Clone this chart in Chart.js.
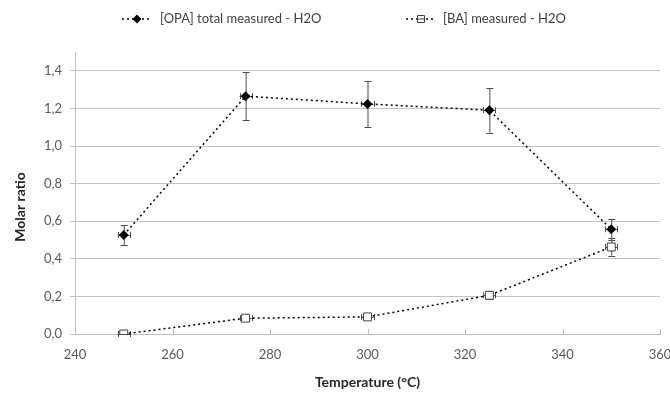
<!DOCTYPE html>
<html>
<head>
<meta charset="utf-8">
<script src="https://cdn.jsdelivr.net/npm/chart.js@4.4.0/dist/chart.umd.min.js"></script>
<style>
  html, body { margin: 0; padding: 0; background: #fff; }
  #chart { display: block; }
</style>
</head>
<body>
<canvas id="chart" width="670" height="395"></canvas>
<script>
// values
const temperatures = [250, 275, 300, 325, 350];
const tempErr = [1.25, 1.25, 1.25, 1.25, 1.25];
const opaTotal = [0.527, 1.265, 1.224, 1.19, 0.557];
const opaErr = [0.053, 0.127, 0.122, 0.119, 0.056];
const baMeasured = [0.0, 0.084, 0.091, 0.206, 0.463];
const baErr = [0.0, 0.008, 0.009, 0.021, 0.046];
const xTicks = [240, 260, 280, 300, 320, 340, 360];
const yTicks = [0, 0.2, 0.4, 0.6, 0.8, 1.0, 1.2, 1.4];
const yTitle = 'Molar ratio';

const FONT = 'Lato, "Open Sans", sans-serif';

function toPoints(xs, ys, yErr) {
  return xs.map((x, i) => ({ x: x, y: ys[i], xErr: tempErr[i], yErr: yErr[i] }));
}

//error bars drawn under the markers
const errorBars = {
  id: 'errorBars',
  beforeDatasetsDraw(chart) {
    const ctx = chart.ctx;
    const xs = chart.scales.x, ys = chart.scales.y;
    ctx.save();
    ctx.strokeStyle = '#4d4d4d';
    ctx.lineWidth = 1;
    chart.data.datasets.forEach((ds) => {
      ds.data.forEach((p) => {
        const cx = xs.getPixelForValue(p.x), cy = ys.getPixelForValue(p.y);
        const top = ys.getPixelForValue(p.y + p.yErr), bot = ys.getPixelForValue(p.y - p.yErr);
        const l = xs.getPixelForValue(p.x - p.xErr), r = xs.getPixelForValue(p.x + p.xErr);
        ctx.beginPath();
        ctx.moveTo(cx + 0.5, top); ctx.lineTo(cx + 0.5, bot);
        ctx.moveTo(cx - 3, Math.round(top) + 0.5); ctx.lineTo(cx + 4, Math.round(top) + 0.5);
        ctx.moveTo(cx - 3, Math.round(bot) + 0.5); ctx.lineTo(cx + 4, Math.round(bot) + 0.5);
        ctx.moveTo(l, Math.round(cy) + 0.5); ctx.lineTo(r, Math.round(cy) + 0.5);
        ctx.moveTo(Math.round(l) + 0.5, cy - 3); ctx.lineTo(Math.round(l) + 0.5, cy + 3);
        ctx.moveTo(Math.round(r) + 0.5, cy - 3); ctx.lineTo(Math.round(r) + 0.5, cy + 3);
        ctx.stroke();
      });
    });
    ctx.restore();
  }
};

//small tick marks pointing up into the plot, like excel
const innerTicks = {
  id: 'innerTicks',
  afterDraw(chart) {
    const ctx = chart.ctx;
    const xs = chart.scales.x;
    const b = chart.chartArea.bottom;
    ctx.save();
    ctx.strokeStyle = '#bfbfbf';
    ctx.lineWidth = 1;
    ctx.beginPath();
    xTicks.forEach((t) => {
      const px = Math.round(xs.getPixelForValue(t)) + 0.5;
      ctx.moveTo(px, b); ctx.lineTo(px, b - 5);
    });
    ctx.stroke();
    // y title, sits a little lower than the plot centre in the original
    ctx.translate(20, 207);
    ctx.rotate(-Math.PI / 2);
    ctx.fillStyle = '#262626';
    ctx.font = 'bold 14px ' + FONT;
    ctx.textAlign = 'center';
    ctx.textBaseline = 'middle';
    ctx.fillText(yTitle, 0, 0);
    ctx.restore();
  }
};

function drawMarker(ctx, style, x, y) {
  ctx.beginPath();
  if (style === 'rectRot') {
    const r = 4.5;
    ctx.moveTo(x - r, y); ctx.lineTo(x, y - r); ctx.lineTo(x + r, y); ctx.lineTo(x, y + r);
    ctx.closePath();
    ctx.fillStyle = '#000';
    ctx.fill();
  } else {
    ctx.rect(x - 3.5, y - 3.5, 7, 7);
    ctx.fillStyle = '#fff';
    ctx.fill();
    ctx.strokeStyle = '#404040';
    ctx.lineWidth = 1;
    ctx.stroke();
    ctx.beginPath();
    ctx.moveTo(x - 3.5, y); ctx.lineTo(x + 3.5, y);
    ctx.stroke();
  }
}

//legend with dotted line + marker, drawn by hand
const customLegend = {
  id: 'customLegend',
  afterDraw(chart) {
    const ctx = chart.ctx;
    const spots = [{ x: 122, text: 160 }, { x: 406, text: 443 }];
    const y = 19;
    ctx.save();
    chart.data.datasets.forEach((ds, i) => {
      const s = spots[i];
      ctx.strokeStyle = '#000';
      ctx.lineWidth = 1.5;
      ctx.setLineDash([2, 3]);
      ctx.beginPath();
      ctx.moveTo(s.x, y); ctx.lineTo(s.x + 30, y);
      ctx.stroke();
      ctx.setLineDash([]);
      drawMarker(ctx, ds.pointStyle, s.x + 15, y);
      ctx.fillStyle = '#404040';
      ctx.font = '13px ' + FONT;
      ctx.textBaseline = 'middle';
      ctx.textAlign = 'left';
      ctx.fillText(ds.label, s.text, y);
    });
    ctx.restore();
  }
};

let chart = new Chart(document.getElementById('chart'), {
  type: 'scatter',
  data: {
    datasets: [{
      label: '[OPA] total measured - H2O',
      data: toPoints(temperatures, opaTotal, opaErr),
      showLine: true,
      borderColor: '#000',
      borderWidth: 1.5,
      borderDash: [2, 3],
      pointStyle: 'rectRot',
      pointRadius: 5,
      pointBackgroundColor: '#000',
      pointBorderColor: '#000',
      pointBorderWidth: 0
    }, {
      label: '[BA] measured - H2O',
      data: toPoints(temperatures, baMeasured, baErr),
      showLine: true,
      borderColor: '#000',
      borderWidth: 1.5,
      borderDash: [2, 3],
      pointStyle: 'rect',
      pointRadius: 5.6,
      pointBackgroundColor: '#fff',
      pointBorderColor: '#404040',
      pointBorderWidth: 1
    }]
  },
  options: {
    responsive: false,
    animation: false,
    devicePixelRatio: 1,
    layout: { padding: { top: 52, right: 10, left: 0, bottom: 0 } },
    plugins: {
      legend: { display: false },
      tooltip: { enabled: false }
    },
    scales: {
      x: {
        type: 'linear',
        min: 240,
        max: 360,
        afterBuildTicks: (axis) => { axis.ticks = xTicks.map((v) => ({ value: v })); },
        afterFit: (axis) => { axis.height = 61; axis.paddingRight = 0; axis.paddingLeft = 0; },
        grid: { display: true, drawOnChartArea: false, drawTicks: false, color: '#bfbfbf' },
        border: { color: '#bfbfbf' },
        ticks: { color: '#595959', font: { family: FONT, size: 13 }, padding: 13, maxRotation: 0 },
        title: {
          display: true,
          text: 'Temperature (°C)',
          color: '#262626',
          font: { family: FONT, size: 14, weight: 'bold' },
          padding: { top: 6, bottom: 4 }
        }
      },
      y: {
        min: 0,
        max: 1.5,
        afterBuildTicks: (axis) => { axis.ticks = yTicks.map((v) => ({ value: v })); },
        afterFit: (axis) => { axis.width = 75; },
        grid: { color: '#c4c4c4', tickLength: 5 },
        border: { color: '#bfbfbf' },
        ticks: {
          color: '#595959',
          font: { family: FONT, size: 13 },
          padding: 8,
          callback: (v) => v.toFixed(1).replace('.', ',')
        }
      }
    }
  },
  plugins: [errorBars, innerTicks, customLegend]
});
</script>
</body>
</html>
